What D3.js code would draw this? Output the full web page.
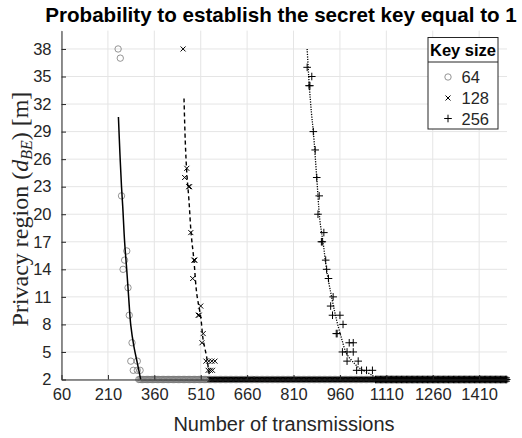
<!DOCTYPE html>
<html>
<head>
<meta charset="utf-8">
<script src="https://cdn.jsdelivr.net/npm/d3@7"></script>
<style>
  body { margin: 0; background: #fff; }
  svg { display: block; }
</style>
</head>
<body>
<svg id="chart" width="522" height="438"></svg>
<script>
// ---------- data ----------
const xTicks = [60, 210, 360, 510, 660, 810, 960, 1110, 1260, 1410];
const yTicks = [2, 5, 8, 11, 14, 17, 20, 23, 26, 29, 32, 35, 38];
const keySizes = ["64", "128", "256"];

// scattered measurements (x = transmissions, y = privacy region)
const s64x = [243, 250, 254, 271, 264, 259, 275, 279, 288, 284, 305, 292, 305, 314];
const s64y = [38, 37, 22, 16, 15, 14, 12, 9, 6, 4, 4, 3, 3, 3];

const s128x = [453, 465, 458, 471, 474, 478, 488, 491, 484, 510, 502, 505, 518, 514, 527, 536, 546, 556, 534, 541, 548];
const s128y = [38, 25, 24, 23, 23, 18, 15, 15, 13, 10, 9, 9, 7, 6, 4, 4, 4, 4, 3, 3, 3];

const s256x = [854, 869, 860, 863, 874, 880, 885, 893, 889, 908, 900, 903, 914, 917, 923, 938, 930, 936, 960, 970, 948, 951, 990, 1003, 968, 983, 1003, 983, 1019, 1014, 1030, 1046, 1065];
const s256y = [36, 35, 34, 34, 29, 27, 24, 22, 20, 18, 17, 17, 15, 14, 13, 11, 10, 9, 9, 8, 7, 7, 6, 6, 5, 5, 5, 4, 4, 3, 3, 3, 3];

// fitted curves
const f64x = [244, 249, 254, 258, 264, 271, 277, 284, 294, 305, 316];
const f64y = [30.6, 26.5, 23, 20.8, 17, 13.9, 11, 7.9, 5.6, 3.8, 2];
const f128x = [456, 460, 465, 472, 479, 488, 497, 510, 518, 529, 537, 541];
const f128y = [32.6, 28, 24.5, 21.5, 17.9, 15, 11.4, 8.8, 6.3, 4.5, 2.7, 2];
const f256x = [854, 861, 868, 874, 885, 895, 906, 917, 933, 949, 965, 981, 1000, 1025, 1062, 1080];
const f256y = [38, 34, 31, 29, 24, 19.4, 16.8, 13.9, 11, 8.5, 6.5, 4.85, 4, 3.2, 2.5, 2];

// floor: all runs from these transmission counts onward reach the minimum region (2 m)
const floorStart = [310, 540, 1075];
const floorEnd = 1500;
const floorStep = 4;
const floorValue = 2;

// ---------- layout ----------
const svg = d3.select("#chart");
const pL = 61.5, pR = 507, pT = 30.6, pB = 379.5;
const x = d3.scaleLinear().domain([60, 1500]).range([pL, pR]);
const y = d3.scaleLinear().domain([2, 40]).range([pB, pT]);
const axisColor = "#262626";
const font = "'Liberation Sans', Arial, Helvetica, sans-serif";

// grid
const grid = svg.append("g");
grid.selectAll("line.vx").data(xTicks).enter().append("line")
  .attr("x1", d => x(d)).attr("x2", d => x(d)).attr("y1", pT).attr("y2", pB)
  .attr("stroke", "#e5e5e5").attr("stroke-width", 1);
grid.selectAll("line.hy").data(yTicks).enter().append("line")
  .attr("y1", d => y(d)).attr("y2", d => y(d)).attr("x1", pL).attr("x2", pR)
  .attr("stroke", "#e5e5e5").attr("stroke-width", 1);

// markers
function drawMarker(g, type, cx, cy) {
  if (type === 0) {
    g.append("circle").attr("cx", cx).attr("cy", cy).attr("r", 3.2)
      .attr("fill", "none").attr("stroke", "#7a7a7a").attr("stroke-width", 0.8);
  } else if (type === 1) {
    const h = 2.5;
    g.append("path").attr("d", `M${cx-h},${cy-h}L${cx+h},${cy+h}M${cx-h},${cy+h}L${cx+h},${cy-h}`)
      .attr("stroke", "#000").attr("stroke-width", 1).attr("fill", "none");
  } else {
    const h = 3.8;
    g.append("path").attr("d", `M${cx-h},${cy}L${cx+h},${cy}M${cx},${cy-h}L${cx},${cy+h}`)
      .attr("stroke", "#000").attr("stroke-width", 1).attr("fill", "none");
  }
}

const scatters = [[s64x, s64y], [s128x, s128y], [s256x, s256y]];
const fits = [[f64x, f64y], [f128x, f128y], [f256x, f256y]];
const dashes = [null, "4,3", "1.2,1.3"];
const widths = [1.5, 1.4, 1.3];

const line = d3.line().x(d => x(d[0])).y(d => y(d[1])).curve(d3.curveCatmullRom);

scatters.forEach((s, i) => {
  const g = svg.append("g");
  const floorX = d3.range(floorStart[i], floorEnd + 0.001, floorStep);
  floorX.forEach(v => drawMarker(g, i, x(v), y(floorValue)));
  s[0].forEach((v, j) => drawMarker(g, i, x(v), y(s[1][j])));
  const pts = fits[i][0].map((v, j) => [v, fits[i][1][j]]);
  g.append("path").attr("d", line(pts)).attr("fill", "none")
    .attr("stroke", "#000").attr("stroke-width", widths[i])
    .attr("stroke-dasharray", dashes[i]);
});

// axes
const xAxis = d3.axisBottom(x).tickValues(xTicks).tickFormat(d3.format("d"))
  .tickSizeInner(-4.5).tickSizeOuter(0).tickPadding(9);
const yAxis = d3.axisLeft(y).tickValues(yTicks).tickFormat(d3.format("d"))
  .tickSizeInner(-4.5).tickSizeOuter(0).tickPadding(10);
const gx = svg.append("g").attr("transform", `translate(0,${pB})`).call(xAxis);
const gy = svg.append("g").attr("transform", `translate(${pL},0)`).call(yAxis);
[gx, gy].forEach(g => {
  g.select(".domain").attr("stroke", axisColor).attr("stroke-width", 1);
  g.selectAll(".tick line").attr("stroke", axisColor);
  g.selectAll(".tick text").attr("fill", axisColor).style("font-family", font).style("font-size", "16.5px");
});
gx.selectAll(".tick text").attr("dy", "0.72em");

// labels
svg.append("text").attr("x", 281).attr("y", 22).attr("text-anchor", "middle")
  .style("font-family", font).style("font-size", "20.6px").style("font-weight", "bold")
  .attr("fill", "#000")
  .text("Probability to establish the secret key equal to 1");

svg.append("text").attr("x", 284).attr("y", 431).attr("text-anchor", "middle")
  .style("font-family", font).style("font-size", "20px").attr("fill", axisColor)
  .text("Number of transmissions");

const yl = svg.append("text").attr("transform", `translate(28,${(pT + pB) / 2 + 4}) rotate(-90)`)
  .attr("text-anchor", "middle")
  .style("font-family", "'Liberation Serif', 'DejaVu Serif', serif").style("font-size", "24px")
  .attr("fill", axisColor);
yl.append("tspan").text("Privacy region (");
yl.append("tspan").style("font-style", "italic").text("d");
yl.append("tspan").style("font-style", "italic").style("font-size", "16px").attr("dy", 4).text("BE");
yl.append("tspan").attr("dy", -4).text(") [m]");

// legend
const lg = svg.append("g");
lg.append("rect").attr("x", 428).attr("y", 37.5).attr("width", 70).attr("height", 91.5)
  .attr("fill", "#fff").attr("stroke", axisColor).attr("stroke-width", 1);
lg.append("line").attr("x1", 428).attr("x2", 498).attr("y1", 62).attr("y2", 62)
  .attr("stroke", axisColor).attr("stroke-width", 1);
lg.append("text").attr("x", 463).attr("y", 56).attr("text-anchor", "middle")
  .style("font-family", font).style("font-size", "16.5px").style("font-weight", "bold")
  .attr("fill", "#000").text("Key size");
const rowY = [77, 98, 118.5];
keySizes.forEach((k, i) => {
  drawMarker(lg, i, 448, rowY[i]);
  lg.append("text").attr("x", 461.5).attr("y", rowY[i] + 6)
    .style("font-family", font).style("font-size", "16.5px").attr("fill", axisColor).text(k);
});
</script>
</body>
</html>
